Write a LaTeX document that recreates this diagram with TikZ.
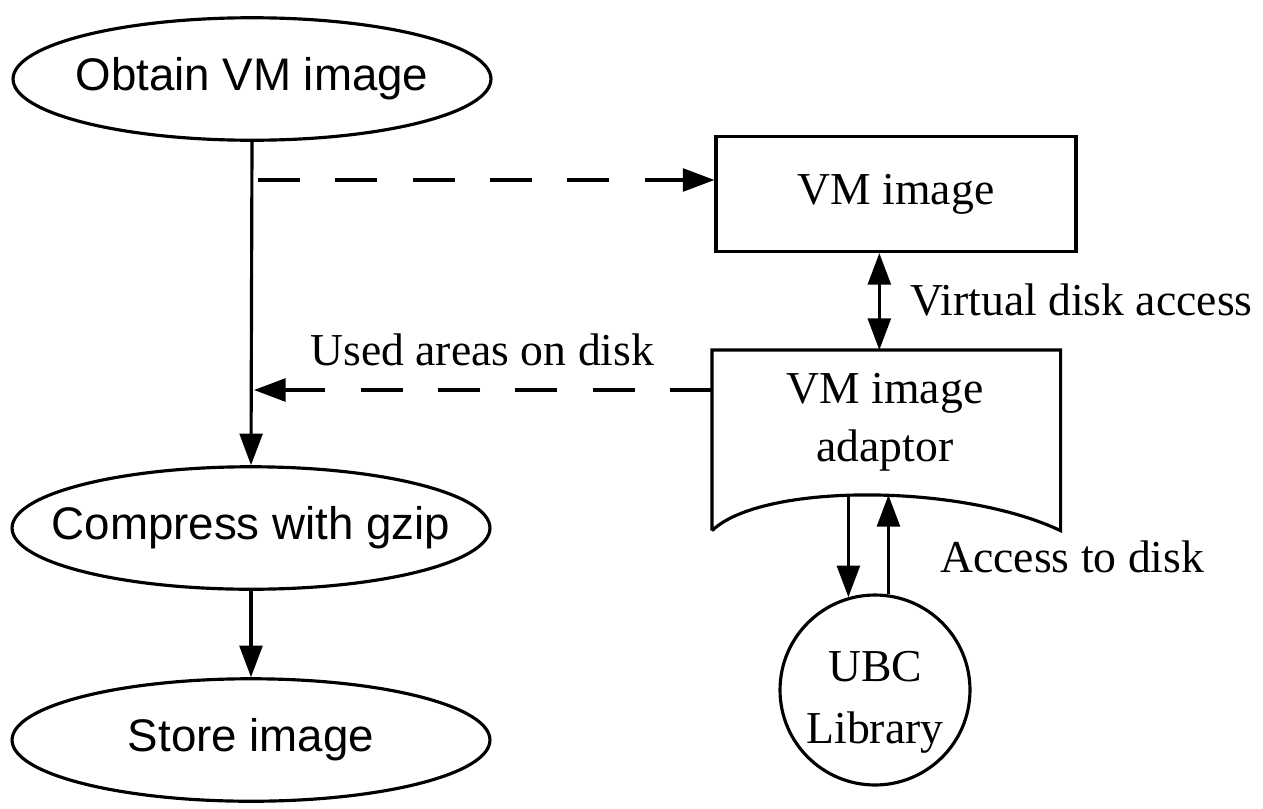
\documentclass[tikz,border=0pt]{standalone}
\usepackage{fontspec}
\setmainfont{Liberation Serif}
\setsansfont{Liberation Sans}
\usetikzlibrary{shapes.geometric, arrows.meta, positioning, calc}

\begin{document}
\begin{tikzpicture}[
    x=0.02cm, y=-0.02cm,
    oval/.style={draw, ellipse, line width=1.8pt, inner sep=0pt, minimum width=9.56cm, minimum height=2.45cm,
                 label={[font=\sffamily\fontsize{26}{31}\selectfont]center:#1}},
    block/.style={draw, line width=1.8pt, inner sep=0pt, minimum width=7.2cm, minimum height=2.3cm, font=\fontsize{26}{31}\selectfont},
    lbl/.style={font=\fontsize{26}{31}\selectfont, inner sep=0pt},
    arr/.style={line width=1.8pt, -{Triangle[length=18pt,width=13pt]}},
    dsh/.style={arr, dash pattern=on 24pt off 20pt}
]
\useasboundingbox (0,0) rectangle (1263,808);

% Left column
\node[oval=Obtain VM image] (obtain) at (252, 79) {};
\node[oval=Compress with gzip] (compress) at (251, 528) {};
\node[oval=Store image] (store) at (251, 740) {};

% Right column
\node[block] (vmimg) at (896, 194) {VM image};
\node[lbl, minimum width=6.96cm, minimum height=3.6cm, anchor=north west] (adaptor) at (712, 350) {};
\node[lbl, align=center] (adtext) at (885, 422) {VM image\\[2pt]adaptor};
\draw[line width=1.8pt] (adaptor.south west) -- (adaptor.north west) -- (adaptor.north east)
    -- (adaptor.south east) .. controls (960, 483) and (761, 483) .. (adaptor.south west);
\node[draw, circle, line width=1.8pt, inner sep=0pt, minimum size=3.8cm,
      label={[font=\fontsize{26}{31}\selectfont, align=center, yshift=-7pt]center:UBC\\[4pt]Library}] (lib) at (875, 690) {};

% Points on the curved edge
\coordinate (cdown) at (848, 496);
\coordinate (cup) at (888, 495);
\coordinate (tap) at (258, 180);
\coordinate (used) at (254, 390);

% Connectors
\draw[arr] (obtain.south) -- (compress.north);
\draw[arr] (compress.south) -- (store.north);
\draw[dsh] (tap) -- (tap -| vmimg.west);
\draw[dsh] (used -| adaptor.west) -- (used);
\draw[arr, {Triangle[length=18pt,width=13pt]}-{Triangle[length=18pt,width=13pt]}]
    ([xshift=-0.14cm]adaptor.north |- vmimg.south) -- ([xshift=-0.14cm]adaptor.north);
\draw[arr] (lib.106.5 |- cdown) -- (lib.106.5);
\draw[arr] (lib.82) -- (lib.82 |- cup);

% Labels
\node[lbl, anchor=west] (vda) at (910, 300) {Virtual disk access};
\node[lbl, anchor=west] (uad) at (310, 350) {Used areas on disk};
\node[lbl, anchor=west] (atd) at (940, 557) {Access to disk};

\end{tikzpicture}
\end{document}
